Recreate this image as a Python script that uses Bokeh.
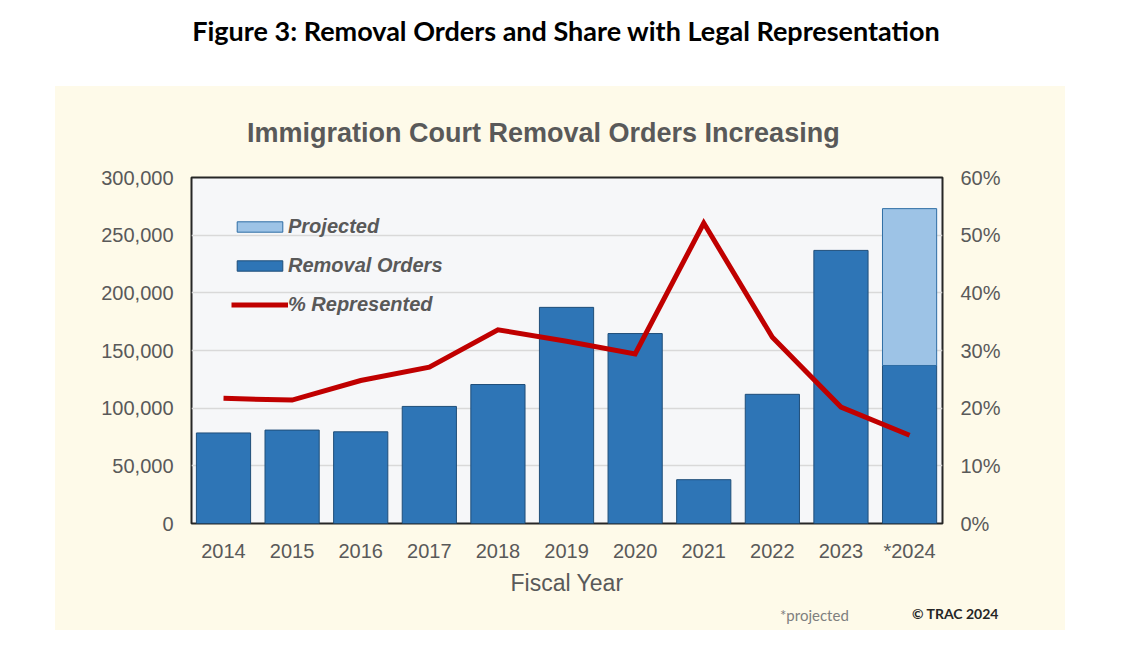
from bokeh.plotting import figure
from bokeh.models import (Range1d, LinearAxis, FixedTicker, NumeralTickFormatter,
                          PrintfTickFormatter, Legend, LegendItem, Div, Spacer)
from bokeh.layouts import column, row
from bokeh.embed import file_html
from bokeh.resources import INLINE

# ---- data ----
years = ["2014", "2015", "2016", "2017", "2018", "2019", "2020", "2021", "2022", "2023", "*2024"]
removal_orders = [78500, 81000, 79500, 101500, 120500, 187400, 164700, 38000, 112000, 236800, 137000]
projected_total_2024 = [273000]
projected_index = [10]
pct_represented = [21.7, 21.4, 24.8, 27.1, 33.6, 31.6, 29.4, 52.1, 32.3, 20.2, 15.3]
left_ticks = [0, 50000, 100000, 150000, 200000, 250000, 300000]
right_ticks = [0, 10, 20, 30, 40, 50, 60]

xs = list(range(len(years)))

FONT = "Liberation Sans"
GRAY = "#595959"
CREAM = "#fefae9"

p = figure(width=1010, height=456, output_backend="svg", toolbar_location=None,
           x_range=Range1d(-0.4665, 10.48), y_range=Range1d(0, 300000),
           min_border_left=136, min_border_right=123, min_border_top=27, min_border_bottom=83)
p.margin = (0, 0, 0, 0)
p.border_fill_color = CREAM
p.background_fill_color = "#f6f7f9"
p.outline_line_color = "#262626"
p.outline_line_width = 2

p.extra_y_ranges = {"pct": Range1d(0, 60)}

# bars
bars = p.vbar(x=xs, top=removal_orders, width=0.79, fill_color="#2e75b6",
              line_color="#1f4e79", line_width=1)
proj = p.vbar(x=projected_index, bottom=[removal_orders[i] for i in projected_index],
              top=projected_total_2024, width=0.79, fill_color="#9dc3e6",
              line_color="#2e6da4", line_width=1)
line = p.line(x=xs, y=pct_represented, y_range_name="pct", line_color="#c00000",
              line_width=5, line_join="miter")

# axes
p.xaxis.ticker = FixedTicker(ticks=xs)
p.xaxis.major_label_overrides = {i: y for i, y in enumerate(years)}
p.xaxis.axis_label = "Fiscal Year"
p.xaxis.axis_label_text_font = FONT
p.xaxis.axis_label_text_font_size = "23px"
p.xaxis.axis_label_text_font_style = "normal"
p.xaxis.axis_label_text_color = GRAY
p.xaxis.axis_label_standoff = 5
p.xaxis.major_label_standoff = 16

p.yaxis.ticker = FixedTicker(ticks=left_ticks)
p.yaxis.formatter = NumeralTickFormatter(format="0,0")
p.yaxis.major_label_standoff = 18

raxis = LinearAxis(y_range_name="pct", ticker=FixedTicker(ticks=right_ticks),
                   formatter=PrintfTickFormatter(format="%d%%"))
raxis.major_label_standoff = 18
p.add_layout(raxis, "right")

for ax in [p.xaxis[0], p.yaxis[0], raxis]:
    ax.axis_line_color = None
    ax.major_tick_line_color = None
    ax.minor_tick_line_color = None
    ax.major_tick_out = 0
    ax.major_tick_in = 0
    ax.major_label_text_font = FONT
    ax.major_label_text_font_size = "20px"
    ax.major_label_text_color = GRAY

p.xgrid.grid_line_color = None
p.ygrid.grid_line_color = "#d9d9d9"
p.ygrid.grid_line_width = 1.5
p.ygrid.ticker = FixedTicker(ticks=left_ticks)

# legend
legend = Legend(items=[LegendItem(label="Projected", renderers=[proj]),
                       LegendItem(label="Removal Orders", renderers=[bars]),
                       LegendItem(label="% Represented", renderers=[line])],
                location=(40, 207))
legend.background_fill_alpha = 0
legend.border_line_color = None
legend.padding = 0
legend.margin = 0
legend.glyph_width = 57
legend.glyph_height = 13
legend.label_height = 13
legend.spacing = 16
legend.label_standoff = 0
legend.label_text_font = FONT
legend.label_text_font_size = "20px"
legend.label_text_font_style = "bold italic"
legend.label_text_color = GRAY
p.add_layout(legend, "center")

title = Div(text="Figure 3: Removal Orders and Share with Legal Representation",
            width=1132, height=86, margin=(0, 0, 0, 0),
            styles={"font-family": "Lato", "font-weight": "bold", "font-size": "27px",
                    "text-align": "center", "line-height": "62px", "color": "#000000"})

chart_title = Div(text=('<div style="position:relative;height:64px;width:1010px;">'
                        '<span style="position:absolute;left:192px;top:31px;line-height:32px;'
                        'font-family:\'Liberation Sans\';font-size:27px;font-weight:bold;'
                        'color:#595959;white-space:nowrap;">'
                        'Immigration Court Removal Orders Increasing</span></div>'),
                  width=1010, height=64, margin=(0, 0, 0, 0),
                  styles={"background-color": CREAM})

notes = Div(text=('<div style="position:relative;height:24px;width:1010px;">'
                  '<span style="position:absolute;left:725px;top:1px;line-height:16px;'
                  'font-family:Lato;font-size:15px;color:#7f7f7f;">*projected</span>'
                  '<span style="position:absolute;left:857px;top:0px;line-height:16px;'
                  'font-family:Lato;font-size:14px;font-weight:bold;color:#262626;">'
                  '&copy; TRAC 2024</span></div>'),
            width=1010, height=24, margin=(0, 0, 0, 0),
            styles={"background-color": CREAM})

panel = column(chart_title, p, notes, width=1010, height=544, margin=(0, 0, 0, 0),
               styles={"background-color": CREAM})

layout = column(title,
                row(Spacer(width=55, height=544, margin=(0, 0, 0, 0)), panel,
                    margin=(0, 0, 0, 0)),
                margin=(0, 0, 0, 0))

open("out.html", "w").write(file_html(layout, INLINE))
